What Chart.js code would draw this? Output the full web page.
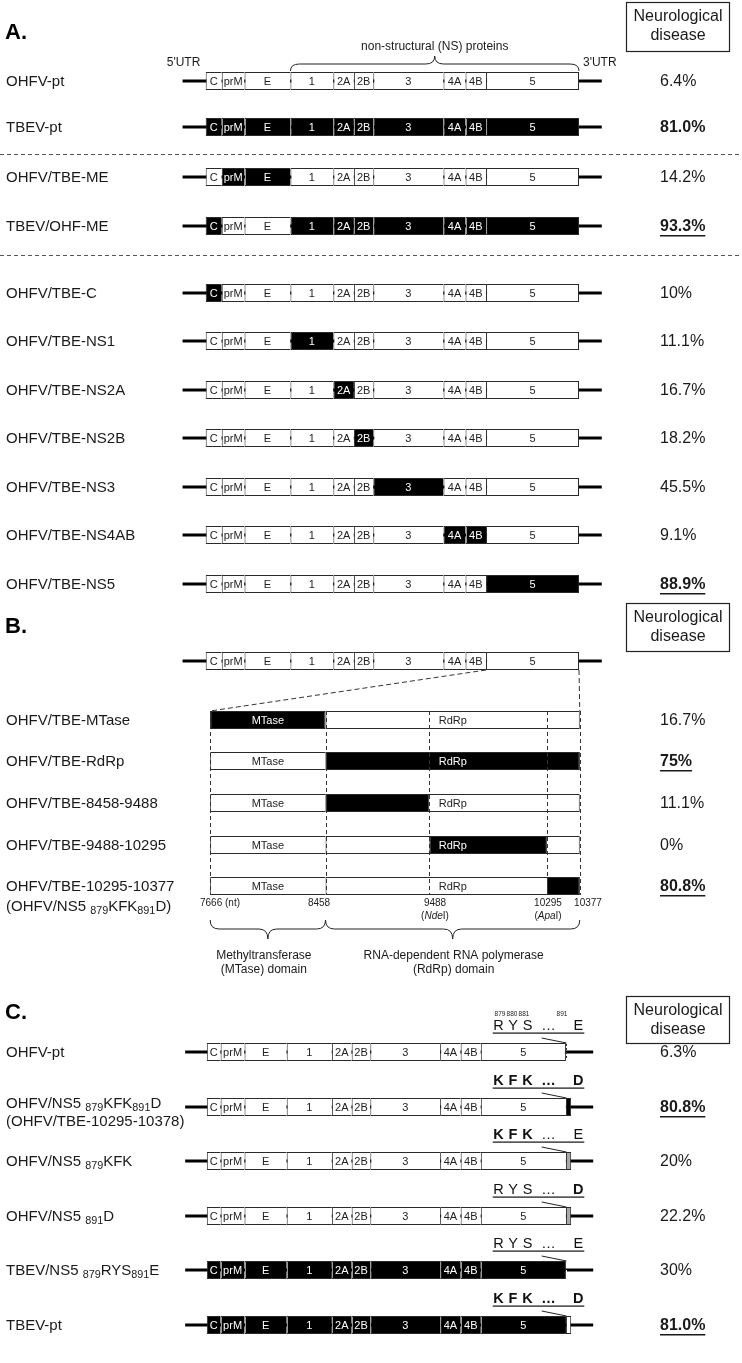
<!DOCTYPE html>
<html><head><meta charset="utf-8">
<script src="https://cdn.jsdelivr.net/npm/chart.js@4.4.1/dist/chart.umd.min.js"></script>
<style>html,body{margin:0;padding:0;background:#fff}#wrap{width:742px;height:1363px;position:relative}</style>
</head><body><div id="wrap"><canvas id="c"></canvas></div>
<script>
// ================= DATA =================
const genes = ['C','prM','E','1','2A','2B','3','4A','4B','5'];
// schematic gene boundaries (0..100 = drawn polyprotein of panels A/B)
const geneEdgesAB = [0, 4.3, 10.4, 22.7, 34.2, 39.7, 44.9, 63.7, 69.6, 75.1, 100];
const utrAB = [-6.2, 106.1];
const geneEdgesC = [0.3, 4.0, 10.4, 21.7, 33.8, 39.1, 44.1, 62.8, 68.3, 73.7, 96.5];
const tailC = [96.5, 97.9];
const utrC = [-5.5, 103.8];

// Panel A
const rowsA = ['OHFV-pt','TBEV-pt','OHFV/TBE-ME','TBEV/OHF-ME','OHFV/TBE-C','OHFV/TBE-NS1','OHFV/TBE-NS2A','OHFV/TBE-NS2B','OHFV/TBE-NS3','OHFV/TBE-NS4AB','OHFV/TBE-NS5'];
const tbevGenesA = [[], genes, ['prM','E'], ['C','1','2A','2B','3','4A','4B','5'], ['C'], ['1'], ['2A'], ['2B'], ['3'], ['4A','4B'], ['5']];
const neuroA = ['6.4%','81.0%','14.2%','93.3%','10%','11.1%','16.7%','18.2%','45.5%','9.1%','88.9%'];
const emphA = [0,1,0,2,0,0,0,0,0,0,2]; // 1 = bold, 2 = bold + underline

// Panel B (NS5 expanded, nucleotide marks)
const ntMarks = [7666, 8458, 9488, 10295, 10377];
const ntMarkLabels = ['7666 (nt)','8458','9488','10295','10377'];
const ntMarkEnzymes = ['','','Nde','Apa',''];
const ntSchematic = [1.2, 32.1, 59.9, 91.4, 100.2];
const rowsB = ['OHFV/TBE-MTase','OHFV/TBE-RdRp','OHFV/TBE-8458-9488','OHFV/TBE-9488-10295','OHFV/TBE-10295-10377'];
const rowsBnote = ['','','','','(OHFV/NS5 _{879}KFK_{891}D)'];
const tbevRangeB = [[7666,8458],[8458,10377],[8458,9488],[9488,10295],[10295,10377]];
const neuroB = ['16.7%','75%','11.1%','0%','80.8%'];
const emphB = [0,2,0,0,2];

// Panel C
const rowsC = ['OHFV-pt','OHFV/NS5 _{879}KFK_{891}D','OHFV/NS5 _{879}KFK','OHFV/NS5 _{891}D','TBEV/NS5 _{879}RYS_{891}E','TBEV-pt'];
const rowsCnote = ['','(OHFV/TBE-10295-10378)','','','',''];
const backboneC = ['OHFV','OHFV','OHFV','OHFV','TBEV','TBEV'];
const residueNums = ['879','880','881','','891'];
const ohfvRes = ['R','Y','S','\u2026','E'];
const tbevRes = ['K','F','K','\u2026','D'];
const resFromTBEV = [[0,0,0,0,0],[1,1,1,1,1],[1,1,1,0,0],[0,0,0,0,1],[0,0,0,0,0],[1,1,1,1,1]];
const tailTypeC = ['dashed','TBEV','mixed','mixed','dashed','OHFV'];
const neuroC = ['6.3%','80.8%','20%','22.2%','30%','81.0%'];
const emphC = [0,2,0,0,0,2];

// ================= LAYOUT =================
const FONT = '"Liberation Sans", Arial, Helvetica, sans-serif';
const LAY = {
  xMin: -55.1, xMax: 143.66,
  rowYA: [81,127,177,226,293,341,390,438,487,535,584],
  sepA: [154, 255],
  genomeYB: 661,
  rowYB: [720,761,803,845,886],
  rowYC: [1052,1107,1161,1216,1270,1325],
  boxH: 18,
  labelX: 6, pctX: 660,
  neuroBoxes: [[626,2,103,49],[626,603,103,48],[626,996,103,47]],
  letters: [['A.',33],['B.',627],['C.',1013]],
  ntLabelX: [220,319,435,548,588],
  resX: [498.5,513,527.5,548.5,578.3],
  resNumX: [500,512,524,null,562],
  rdrpTextU: 66.2
};
const BLACK = '#000', WHITE = '#fff', GRAY = '#a8a8a8';

// ================= BUILD DATASETS =================
const utrData = [], segData = [];
function addGenome(y, edges, isTbev, tail) {
  for (let g = 0; g < genes.length; g++) {
    let s = edges[g], e = edges[g + 1];
    if (e === undefined) e = tail ? (tail.type === 'dashed' ? tail.range[1] : tail.range[0]) : 100;
    const tb = isTbev(genes[g]);
    segData.push({x:[s,e], y, fill: tb ? BLACK : WHITE, text: genes[g], tcol: tb ? WHITE : '#222',
                  last: !tail && g === genes.length - 1});
  }
}
rowsA.forEach((r,i) => {
  utrData.push({x: utrAB.slice(), y: LAY.rowYA[i]});
  addGenome(LAY.rowYA[i], geneEdgesAB, g => tbevGenesA[i].includes(g), null);
});
// B genome
utrData.push({x: utrAB.slice(), y: LAY.genomeYB});
addGenome(LAY.genomeYB, geneEdgesAB, g => false, null);
const ntPos = nt => ntSchematic[ntMarks.indexOf(nt)];
rowsB.forEach((r,i) => {
  const y = LAY.rowYB[i];
  const [a,b] = tbevRangeB[i];
  segData.push({x:[ntPos(7666), ntPos(8458)], y, fill: WHITE, last:false});
  segData.push({x:[ntPos(8458), ntPos(10377)], y, fill: WHITE, last:true});
  segData.push({x:[ntPos(a), ntPos(b)], y, fill: BLACK, last:true, full:true});
});
rowsC.forEach((r,i) => {
  const y = LAY.rowYC[i];
  utrData.push({x: utrC.slice(), y});
  const tb = backboneC[i] === 'TBEV';
  const t = tailTypeC[i];
  addGenome(y, geneEdgesC, g => tb, {type: t, range: tailC});
  if (t === 'dashed') segData[segData.length-1].last = true;
  else segData.push({x: tailC.slice(), y, fill: t === 'TBEV' ? BLACK : t === 'OHFV' ? WHITE : GRAY, last:true});
});

// ================= DRAWING HELPERS =================
function runs(str){ const out=[]; const re=/_\{([^}]*)\}/g; let last=0,m;
  while((m=re.exec(str))){ if(m.index>last) out.push({t:str.slice(last,m.index)}); out.push({t:m[1],sub:true}); last=re.lastIndex; }
  if(last<str.length) out.push({t:str.slice(last)}); return out; }
function drawRich(ctx, str, x, y, size, weight) {
  ctx.textAlign='left'; ctx.textBaseline='middle';
  let cx = x;
  runs(str).forEach(r => {
    const s = r.sub ? size*0.72 : size;
    ctx.font = (weight||'') + ' ' + s + 'px ' + FONT;
    ctx.fillText(r.t, cx, r.sub ? y + size*0.3 : y);
    cx += ctx.measureText(r.t).width;
  });
}
function text(ctx, t, x, y, size, opt) {
  opt = opt || {};
  ctx.font = (opt.style||'') + ' ' + (opt.bold?'bold ':'') + size + 'px ' + FONT;
  ctx.fillStyle = opt.color || '#1a1a1a';
  ctx.textAlign = opt.align || 'center'; ctx.textBaseline = 'middle';
  ctx.fillText(t, x, y);
}
function pct(ctx, t, x, y, emph) {
  text(ctx, t, x, y, 16, {bold: emph>0, align:'left'});
  if (emph === 2) {
    const w = ctx.measureText(t).width;
    ctx.fillRect(x, y + 8, w, 1.5);
  }
}
function brace(ctx, x1, x2, yBase, yMid, yTip) {
  const xm = (x1+x2)/2, r = 9;
  ctx.beginPath();
  ctx.moveTo(x1, yBase);
  ctx.quadraticCurveTo(x1, yMid, x1+r, yMid);
  ctx.lineTo(xm-r, yMid);
  ctx.quadraticCurveTo(xm, yMid, xm, yTip);
  ctx.quadraticCurveTo(xm, yMid, xm+r, yMid);
  ctx.lineTo(x2-r, yMid);
  ctx.quadraticCurveTo(x2, yMid, x2, yBase);
  ctx.stroke();
}
function dashed(ctx, x1, y1, x2, y2, pat, col) {
  ctx.save(); ctx.setLineDash(pat || [4,3]); ctx.strokeStyle = col || '#333'; ctx.lineWidth = 1;
  ctx.beginPath(); ctx.moveTo(x1,y1); ctx.lineTo(x2,y2); ctx.stroke(); ctx.restore();
}

const decor = {
  id: 'decor',
  afterDatasetsDraw(chart) {
    const ctx = chart.ctx, xs = chart.scales.x, ys = chart.scales.y;
    const X = v => xs.getPixelForValue(v), Y = v => ys.getPixelForValue(v);
    const h = LAY.boxH/2;
    ctx.save();
    // separators between adjacent black segments
    for (let i = 1; i < segData.length; i++) {
      const a = segData[i-1], b = segData[i];
      if (a.y === b.y && a.fill === BLACK && b.fill === BLACK && Math.abs(a.x[1]-b.x[0])<1e-6) {
        ctx.fillStyle = '#9a9a9a';
        ctx.fillRect(Math.round(X(b.x[0])), Y(b.y)-h+1, 1, LAY.boxH-2);
      }
    }
    // segment labels
    segData.forEach(d => { if (d.text) text(ctx, d.text, X((d.x[0]+d.x[1])/2), Y(d.y)+0.5, 11, {color: d.tcol}); });

    // section letters
    LAY.letters.forEach(([t,y]) => text(ctx, t, 5, y, 22, {bold:true, align:'left', color:'#000'}));
    // neurological disease boxes
    LAY.neuroBoxes.forEach(([x,y,w,hh]) => {
      ctx.strokeStyle = '#222'; ctx.lineWidth = 1.2; ctx.strokeRect(x+0.5, y+0.5, w, hh);
      text(ctx, 'Neurological', x+w/2+0.5, y+15, 16);
      text(ctx, 'disease', x+w/2+0.5, y+34, 16);
    });

    // ---- Panel A ----
    rowsA.forEach((r,i) => {
      ctx.fillStyle = '#1a1a1a'; drawRich(ctx, r, LAY.labelX, Y(LAY.rowYA[i])+1, 15);
      pct(ctx, neuroA[i], LAY.pctX, Y(LAY.rowYA[i])+1, emphA[i]);
    });
    ctx.strokeStyle = '#222'; ctx.lineWidth = 1;
    brace(ctx, X(geneEdgesAB[3]), X(100), 71, 64, 56);
    text(ctx, 'non-structural (NS) proteins', (X(geneEdgesAB[3])+X(100))/2, 47, 12);
    text(ctx, "5'UTR", X(utrAB[0])+1, 63, 12);
    text(ctx, "3'UTR", X(utrAB[1])-2, 63, 12);
    LAY.sepA.forEach(y => dashed(ctx, 0, Y(y)+0.5, 742, Y(y)+0.5, [4,3], '#555'));

    // ---- Panel B ----
    const gy = Y(LAY.genomeYB);
    dashed(ctx, X(geneEdgesAB[9]), gy+h, X(ntSchematic[0]), Y(LAY.rowYB[0])-h, [5,3], '#333');
    dashed(ctx, X(100), gy+h, X(ntSchematic[4]), Y(LAY.rowYB[0])-h, [5,3], '#333');
    const yTop = Y(LAY.rowYB[0])-h, yBot = Y(LAY.rowYB[4])+h;
    ntSchematic.forEach(u => dashed(ctx, Math.round(X(u))+0.5, yTop, Math.round(X(u))+0.5, yBot, [4,3], '#333'));
    rowsB.forEach((r,i) => {
      const y = Y(LAY.rowYB[i]);
      ctx.fillStyle = '#1a1a1a'; drawRich(ctx, r, LAY.labelX, y+1, 15);
      if (rowsBnote[i]) { ctx.fillStyle = '#1a1a1a'; drawRich(ctx, rowsBnote[i], LAY.labelX, y+21, 15); }
      pct(ctx, neuroB[i], LAY.pctX, y+1, emphB[i]);
      const [a,b] = tbevRangeB[i].map(ntPos);
      const mu = (ntSchematic[0]+ntSchematic[1])/2;
      text(ctx, 'MTase', X(mu), y+0.5, 11, {color: (mu>a&&mu<b)?WHITE:'#222'});
      const ru = LAY.rdrpTextU;
      text(ctx, 'RdRp', X(ru), y+0.5, 11, {color: (ru>a&&ru<b)?WHITE:'#222'});
    });
    ntMarkLabels.forEach((t,i) => {
      text(ctx, t, LAY.ntLabelX[i], 903, 10);
      if (ntMarkEnzymes[i]) {
        ctx.font = '10px ' + FONT;
        const w1 = ctx.measureText('(').width, w3 = ctx.measureText('I)').width;
        ctx.font = 'italic 10px ' + FONT;
        const w2 = ctx.measureText(ntMarkEnzymes[i]).width;
        let x0 = LAY.ntLabelX[i] - (w1+w2+w3)/2;
        text(ctx, '(', x0, 916, 10, {align:'left'});
        text(ctx, ntMarkEnzymes[i], x0+w1, 916, 10, {align:'left', style:'italic'});
        text(ctx, 'I)', x0+w1+w2, 916, 10, {align:'left'});
      }
    });
    ctx.strokeStyle = '#222'; ctx.lineWidth = 1;
    brace(ctx, X(ntSchematic[0]), X(ntSchematic[1]), 920, 929, 939);
    brace(ctx, X(ntSchematic[1]), X(ntSchematic[4]), 920, 929, 939);
    const mx = (X(ntSchematic[0])+X(ntSchematic[1]))/2 - 4, rx = (X(ntSchematic[1])+X(ntSchematic[4]))/2 + 1;
    text(ctx, 'Methyltransferase', mx, 956, 12); text(ctx, '(MTase) domain', mx, 970, 12);
    text(ctx, 'RNA-dependent RNA polymerase', rx, 956, 12); text(ctx, '(RdRp) domain', rx, 970, 12);

    // ---- Panel C ----
    rowsC.forEach((r,i) => {
      const y = Y(LAY.rowYC[i]);
      ctx.fillStyle = '#1a1a1a';
      drawRich(ctx, r, LAY.labelX, rowsCnote[i] ? y-3 : y+1, 15);
      if (rowsCnote[i]) { ctx.fillStyle = '#1a1a1a'; drawRich(ctx, rowsCnote[i], LAY.labelX, y+15, 15); }
      pct(ctx, neuroC[i], LAY.pctX, y+1, emphC[i]);
      // residues
      const flags = resFromTBEV[i];
      const allT = flags.every(f => f);
      LAY.resX.forEach((rx,k) => {
        const isT = flags[k] === 1;
        const ch = isT ? tbevRes[k] : ohfvRes[k];
        const bold = k === 3 ? allT : isT;
        text(ctx, ch, rx, y-26, 14.5, {bold, color:'#111'});
      });
      ctx.fillStyle = '#111'; ctx.fillRect(492.7, y-19.5, 91.6, 1.2);
      ctx.strokeStyle = '#222'; ctx.lineWidth = 1;
      ctx.beginPath(); ctx.moveTo(541.7, y-14); ctx.lineTo(X(tailC[0])+0.5, y-h); ctx.stroke();
      if (tailTypeC[i] === 'dashed') {
        const xd = Math.round(X(tailC[0]))+0.5;
        dashed(ctx, xd, y-h+1, xd, y+h-1, [2,2], backboneC[i]==='TBEV' ? '#fff' : '#333');
      }
      if (i === 0) LAY.resNumX.forEach((nx,k) => { if (nx) text(ctx, residueNums[k], nx, y-38, 6.5); });
    });
    ctx.restore();
  }
};

new Chart(document.getElementById('c'), {
  type: 'bar',
  data: { datasets: [
    { label:'UTR', data: utrData, backgroundColor:'#000', borderWidth:0, barThickness:3, grouped:false, order:2, inflateAmount:0 },
    { label:'segments', data: segData,
      backgroundColor: c => c.raw ? c.raw.fill : WHITE,
      borderColor: '#2a2a2a',
      borderWidth: c => c.raw && c.raw.full ? 1 : ({top:1, bottom:1, left:1, right: (c.raw && c.raw.last) ? 1 : 0}),
      borderSkipped:false, barThickness: LAY.boxH, grouped:false, order:1, inflateAmount:0 }
  ]},
  options: {
    indexAxis:'y', responsive:true, maintainAspectRatio:false, animation:false,
    layout:{padding:0}, events:[],
    plugins:{legend:{display:false}, tooltip:{enabled:false}},
    scales:{
      x:{type:'linear', min:LAY.xMin, max:LAY.xMax, display:false, offset:false},
      y:{type:'linear', min:0, max:1363, reverse:true, display:false, offset:false}
    }
  },
  plugins:[decor]
});
</script></body></html>
